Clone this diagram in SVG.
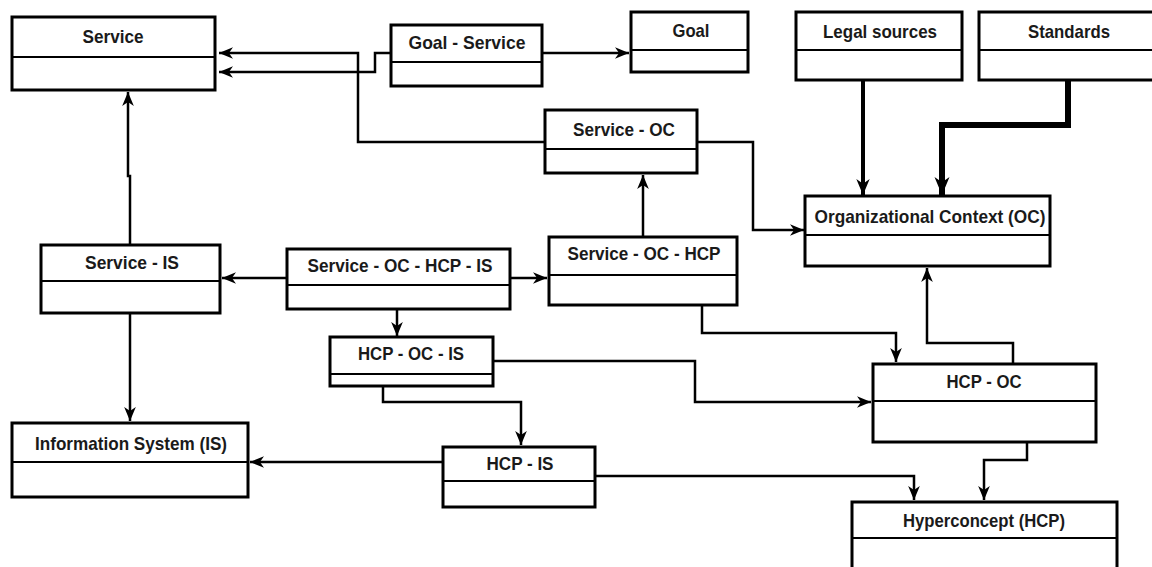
<svg xmlns="http://www.w3.org/2000/svg" width="1152" height="567" viewBox="0 0 1152 567">
  <style>
    .box { fill: #ffffff; stroke: #000000; stroke-width: 3; }
    .div { stroke: #000000; stroke-width: 2; }
    .lbl { font-family: "Liberation Sans", Arial, sans-serif; font-weight: bold; font-size: 19px; fill: #1a1a1a; text-anchor: middle; }
    .con { fill: none; stroke: #000000; stroke-width: 2.5; stroke-linejoin: miter; }
  </style>
  <defs>
    <marker id="arr" viewBox="0 0 12 10" refX="12" refY="5" markerWidth="14" markerHeight="12" markerUnits="userSpaceOnUse" orient="auto">
      <path d="M0,0 L12,5 L0,10 L3.5,5 z" fill="#000000"/>
    </marker>
    <marker id="arrM" viewBox="0 0 12 10" refX="12" refY="5" markerWidth="16" markerHeight="14" markerUnits="userSpaceOnUse" orient="auto">
      <path d="M0,0 L12,5 L0,10 L3.5,5 z" fill="#000000"/>
    </marker>
    <marker id="arrL" viewBox="0 0 12 10" refX="12" refY="5" markerWidth="18" markerHeight="17" markerUnits="userSpaceOnUse" orient="auto">
      <path d="M0,0 L12,5 L0,10 L3.5,5 z" fill="#000000"/>
    </marker>
  </defs>
  <rect width="1152" height="567" fill="#ffffff"/>

  <!-- connectors -->
  <g id="connectors">
    <path class="con" d="M545,142 L358,142 L358,53 L219,53" marker-end="url(#arr)"/>
    <path class="con" d="M391,53 L375,53 L375,72 L219,72" marker-end="url(#arr)"/>
    <path class="con" d="M542,53 L629,53" marker-end="url(#arr)"/>
    <path class="con" d="M697,142 L753,142 L753,230 L804,230" marker-end="url(#arr)"/>
    <path class="con" style="stroke-width:4" d="M863,80 L863,195" marker-end="url(#arrM)"/>
    <path class="con" style="stroke-width:6" d="M1068,80 L1068,125 L942,125 L942,195" marker-end="url(#arrL)"/>
    <path class="con" d="M643,237 L643,175" marker-end="url(#arr)"/>
    <path class="con" d="M130,245 L130,176 L128,176 L128,92" marker-end="url(#arr)"/>
    <path class="con" d="M130,313 L130,421" marker-end="url(#arr)"/>
    <path class="con" d="M287,278 L222,278" marker-end="url(#arr)"/>
    <path class="con" d="M510,278 L547,278" marker-end="url(#arr)"/>
    <path class="con" d="M397,309 L397,336" marker-end="url(#arr)"/>
    <path class="con" d="M493,361 L695,361 L695,402 L871,402" marker-end="url(#arr)"/>
    <path class="con" d="M383,386 L383,402 L521,402 L521,445" marker-end="url(#arr)"/>
    <path class="con" d="M702,305 L702,333 L896,333 L896,362" marker-end="url(#arr)"/>
    <path class="con" d="M1013,364 L1013,343 L927,343 L927,268" marker-end="url(#arr)"/>
    <path class="con" d="M1027,442 L1027,460 L984,460 L984,500" marker-end="url(#arr)"/>
    <path class="con" d="M443,462 L250,462" marker-end="url(#arr)"/>
    <path class="con" d="M595,476 L914,476 L914,500" marker-end="url(#arr)"/>
  </g>

  <!-- class nodes -->
  <g id="service">
    <rect class="box" x="12" y="17" width="203" height="73"/>
    <line class="div" x1="12" y1="57" x2="215" y2="57"/>
    <text class="lbl" x="113" y="43" textLength="61" lengthAdjust="spacingAndGlyphs">Service</text>
  </g>
  <g id="goal-service">
    <rect class="box" x="391" y="25" width="151" height="61"/>
    <line class="div" x1="391" y1="62" x2="542" y2="62"/>
    <text class="lbl" x="467" y="49" textLength="117" lengthAdjust="spacingAndGlyphs">Goal - Service</text>
  </g>
  <g id="goal">
    <rect class="box" x="631" y="12" width="117" height="60"/>
    <line class="div" x1="631" y1="50" x2="748" y2="50"/>
    <text class="lbl" x="691" y="37" textLength="37" lengthAdjust="spacingAndGlyphs">Goal</text>
  </g>
  <g id="legal-sources">
    <rect class="box" x="796" y="12" width="166" height="68"/>
    <line class="div" x1="796" y1="50" x2="962" y2="50"/>
    <text class="lbl" x="880" y="38" textLength="114" lengthAdjust="spacingAndGlyphs">Legal sources</text>
  </g>
  <g id="standards">
    <rect class="box" x="979" y="12" width="182" height="68"/>
    <line class="div" x1="979" y1="50" x2="1161" y2="50"/>
    <text class="lbl" x="1069" y="38" textLength="82" lengthAdjust="spacingAndGlyphs">Standards</text>
  </g>
  <g id="service-oc">
    <rect class="box" x="545" y="110" width="152" height="63"/>
    <line class="div" x1="545" y1="149" x2="697" y2="149"/>
    <text class="lbl" x="624" y="136" textLength="102" lengthAdjust="spacingAndGlyphs">Service - OC</text>
  </g>
  <g id="organizational-context">
    <rect class="box" x="805" y="196" width="245" height="70"/>
    <line class="div" x1="805" y1="235" x2="1050" y2="235"/>
    <text class="lbl" x="930" y="223" textLength="231" lengthAdjust="spacingAndGlyphs">Organizational Context (OC)</text>
  </g>
  <g id="service-is">
    <rect class="box" x="41" y="245" width="179" height="68"/>
    <line class="div" x1="41" y1="281" x2="220" y2="281"/>
    <text class="lbl" x="132" y="269" textLength="94" lengthAdjust="spacingAndGlyphs">Service - IS</text>
  </g>
  <g id="service-oc-hcp-is">
    <rect class="box" x="287" y="249" width="223" height="60"/>
    <line class="div" x1="287" y1="285" x2="510" y2="285"/>
    <text class="lbl" x="400" y="272" textLength="185" lengthAdjust="spacingAndGlyphs">Service - OC - HCP - IS</text>
  </g>
  <g id="service-oc-hcp">
    <rect class="box" x="549" y="237" width="188" height="68"/>
    <line class="div" x1="549" y1="275" x2="737" y2="275"/>
    <text class="lbl" x="644" y="260" textLength="153" lengthAdjust="spacingAndGlyphs">Service - OC - HCP</text>
  </g>
  <g id="hcp-oc-is">
    <rect class="box" x="330" y="337" width="163" height="49"/>
    <line class="div" x1="330" y1="374" x2="493" y2="374"/>
    <text class="lbl" x="411" y="360" textLength="106" lengthAdjust="spacingAndGlyphs">HCP - OC - IS</text>
  </g>
  <g id="hcp-oc">
    <rect class="box" x="873" y="364" width="223" height="78"/>
    <line class="div" x1="873" y1="401" x2="1096" y2="401"/>
    <text class="lbl" x="984" y="388" textLength="75" lengthAdjust="spacingAndGlyphs">HCP - OC</text>
  </g>
  <g id="information-system">
    <rect class="box" x="12" y="423" width="236" height="74"/>
    <line class="div" x1="12" y1="462" x2="248" y2="462"/>
    <text class="lbl" x="131" y="450" textLength="192" lengthAdjust="spacingAndGlyphs">Information System (IS)</text>
  </g>
  <g id="hcp-is">
    <rect class="box" x="443" y="447" width="152" height="60"/>
    <line class="div" x1="443" y1="481" x2="595" y2="481"/>
    <text class="lbl" x="520" y="470" textLength="67" lengthAdjust="spacingAndGlyphs">HCP - IS</text>
  </g>
  <g id="hyperconcept">
    <rect class="box" x="852" y="502" width="265" height="80"/>
    <line class="div" x1="852" y1="538" x2="1117" y2="538"/>
    <text class="lbl" x="984" y="527" textLength="162" lengthAdjust="spacingAndGlyphs">Hyperconcept (HCP)</text>
  </g>
</svg>
